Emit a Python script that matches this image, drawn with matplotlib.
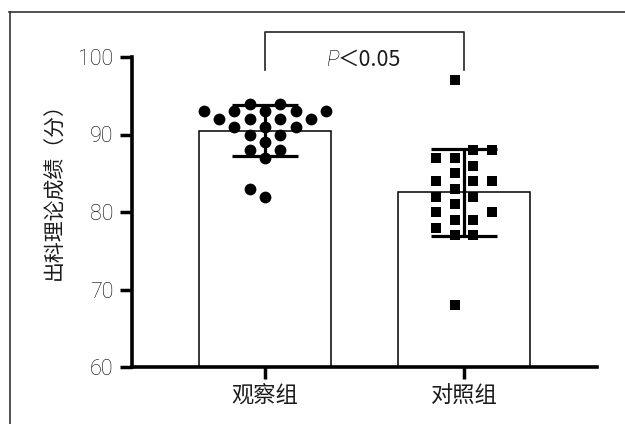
import numpy as np
import matplotlib
matplotlib.use('Agg')
import matplotlib.pyplot as plt
from matplotlib.lines import Line2D

# ---------------- data ----------------
categories = ['观察组', '对照组']
observation_scores = [94, 94, 93, 93, 93, 93, 93, 92, 92, 92, 92,
                      91, 91, 91, 90, 90, 89, 88, 88, 87, 83, 82]
control_scores = [97, 88, 88, 87, 87, 86, 85, 84, 84, 84, 83,
                  82, 82, 81, 80, 80, 79, 79, 78, 77, 77, 68]
y_ticks = [60, 70, 80, 90, 100]
y_label = '出科理论成绩（分）'
p_italic = 'P'
p_rest = '＜0.05'

plt.rcParams['font.family'] = ['Noto Sans CJK SC', 'DejaVu Sans']
TXT = '#1a1a1a'
DIGIT_FONT = ['Roboto', 'Liberation Sans', 'DejaVu Sans']


def swarm_offsets(values, grid, same_row_sep, adj_row_sep):
    """Greedy column layout (Prism-like) for integer-valued points."""
    vals = np.asarray(values)
    order = np.argsort(vals, kind='stable')
    placed = []
    offs = np.zeros(len(vals))
    for i in order:
        r = vals[i]
        chosen = grid[-1]
        for c in grid:
            ok = True
            for pr, pc in placed:
                if pr == r and abs(pc - c) < same_row_sep:
                    ok = False
                    break
                if abs(pr - r) == 1 and abs(pc - c) < adj_row_sep:
                    ok = False
                    break
            if ok:
                chosen = c
                break
        placed.append((r, chosen))
        offs[i] = chosen
    return offs


fig = plt.figure(figsize=(6.25, 4.24), dpi=100)
fig.patch.set_facecolor('white')
ax = fig.add_axes([132 / 625, 1 - 367 / 424, 465 / 625, 310 / 424])

xpos = np.arange(len(categories))
groups = [np.array(observation_scores), np.array(control_scores)]
means = [g.mean() for g in groups]
sds = [g.std(ddof=1) for g in groups]

ax.bar(xpos, means, width=0.663, color='white', edgecolor='black',
       linewidth=1.1, zorder=1)

# scatter points
int_grid = [0, -1, 1, -2, 2, -3, 3, -4, 4, -5, 5, -6, 6]
half_grid = [-0.5, 0.5, -1.5, 1.5, -2.5, 2.5, -3.5, 3.5]
off1 = swarm_offsets(observation_scores, int_grid, 2, 1)
off2 = swarm_offsets(control_scores, half_grid, 1, 1)
ax.scatter(xpos[0] + off1 * 0.0771, observation_scores, s=72, marker='o',
           color='black', linewidths=0, zorder=3)
ax.scatter(xpos[1] + off2 * 0.095, control_scores, s=56, marker='s',
           color='black', linewidths=0, zorder=3)

ax.errorbar(xpos, means, yerr=sds, fmt='none', ecolor='black',
            elinewidth=2.3, capsize=23.5, capthick=2.3, zorder=4)

ax.set_xlim(-0.668, 1.668)
ax.set_ylim(60, 100)
ax.set_yticks(y_ticks)
ax.set_xticks(xpos)
ax.set_xticklabels(categories, fontsize=16, fontweight='light', color=TXT)
ax.set_yticklabels([str(t) for t in y_ticks], fontsize=15.5,
                   family=DIGIT_FONT, fontweight='light', color='black')
ax.tick_params(axis='y', length=8.6, width=2.5, pad=5)
ax.tick_params(axis='x', length=8.6, width=2.5, pad=4)

for s in ['top', 'right']:
    ax.spines[s].set_visible(False)
for s in ['left', 'bottom']:
    ax.spines[s].set_linewidth(2.6)

ax.set_ylabel(y_label, fontsize=15, fontweight='light', color=TXT)
ax.yaxis.set_label_coords(-0.142, 0.585)

# significance bracket
ax.plot([xpos[0], xpos[0], xpos[1], xpos[1]], [98.3, 103.2, 103.2, 98.3],
        color='#222222', lw=1.2, clip_on=False, zorder=5)
ax.text(0.372, 99.6, p_italic, fontsize=15.5, style='italic', ha='right',
        va='center', color='black', family=DIGIT_FONT, fontweight='light')
ax.text(0.368, 99.6, p_rest, fontsize=15.5, ha='left', va='center',
        color=TXT, fontweight='light')

# outer frame (top and left edges)
fig.add_artist(Line2D([9 / 625, 1], [1 - 11.5 / 424] * 2,
                      transform=fig.transFigure, color='#333333', lw=1.2))
fig.add_artist(Line2D([9.5 / 625] * 2, [0, 1 - 11.5 / 424],
                      transform=fig.transFigure, color='#333333', lw=1.2))

fig.savefig('out.png', dpi=100, facecolor='white')
